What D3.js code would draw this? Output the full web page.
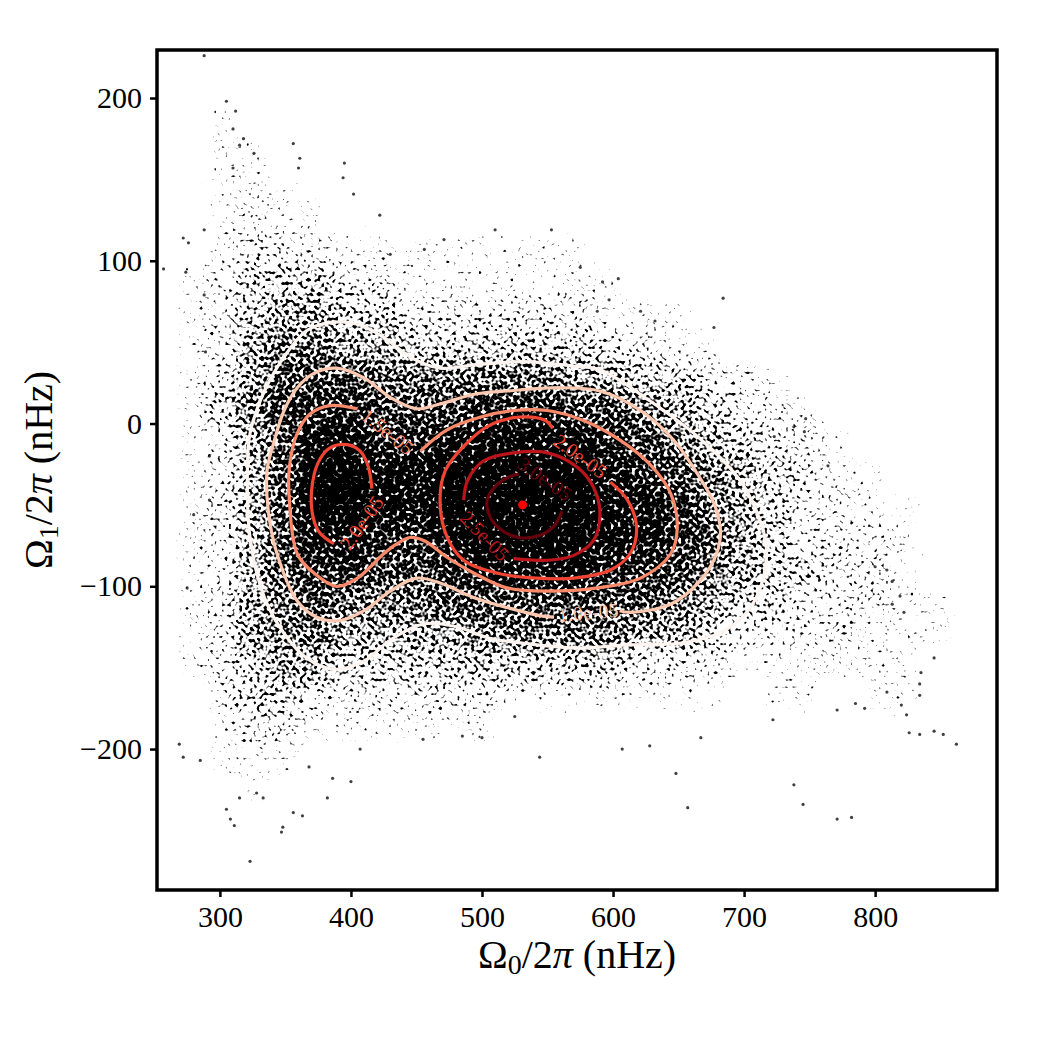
<!DOCTYPE html>
<html>
<head>
<meta charset="utf-8">
<script src="https://cdn.jsdelivr.net/npm/d3@7"></script>
<style>
  body { margin: 0; background: #fff; }
  svg { display: block; }
</style>
</head>
<body>
<div id="chart"></div>
<script>
// ---- data ----
// cloud density on a coarse grid (0 = empty ... 9 = densest), rows top to bottom
const gridX = [250, 275, 300, 325, 350, 375, 400, 425, 450, 475, 500, 525, 550, 575, 600, 625, 650, 675, 700, 725, 750, 775, 800, 825, 850, 875, 900];
const gridY = [230, 210, 190, 170, 150, 130, 110, 90, 70, 50, 30, 10, -10, -30, -50, -70, -90, -110, -130, -150, -170, -190, -210, -230, -250, -270, -290];
const density = [
	"000000000000000000000000000",
	"000000000000000000000000000",
	"001000000000000000000000000",
	"001100000000000000000000000",
	"001110000000000000000000000",
	"001211000000000000000000000",
	"001222111111110000000000000",
	"012333221111111000000000000",
	"012344332222221110000000000",
	"012455443333332211000000000",
	"012466655555544332210000000",
	"013577766677766543221000000",
	"012468877888887654322100000",
	"012469988999998765432110000",
	"012469988999998875432211000",
	"012468877899998876432221000",
	"012467766788887765433221000",
	"012456555666666654332221100",
	"012455444455555443222211100",
	"012344333333333222111111000",
	"002332222221111111011011000",
	"001221111110000000000000000",
	"001110000000000000000000000",
	"000100000000000000000000000",
	"000000000000000000000000000",
	"000000000000000000000000000",
	"000000000000000000000000000"
];

// isolated samples outside the dense cloud  [Omega0/2pi, Omega1/2pi]
const outliers = [
	[288,226],[305,198],[312,192],[310,181],[318,175],[315,171],[356,172],[326,166],[361,163],[310,157],
	[395,160],[394,151],[360,157],[272,114],[276,111],[257,95],[274,93],[288,119],[288,79],[289,44],
	[292,-20],[402,141],[422,128],[510,119],[553,119],[471,113],[456,107],[430,104],
	[575,96],[592,87],[604,89],[597,76],[684,77],[621,69],[632,63],[677,59],[588,69],
	[747,3],[738,-2],[746,-5],[764,-26],[723,-8],
	[269,-197],[272,-205],[285,-207],[280,-56],[275,-101],[292,-47],[323,-269],[311,-247],[308,-243],
	[347,-251],[348,-248],[363,-241],[356,-239],[305,-237],[382,-230],[333,-230],[328,-227],[315,-230],
	[368,-211],[386,-218],[400,-220],[407,-200],[455,-194],[500,-193],[544,-205],[485,-192],[525,-180],
	[648,-215],[657,-236],[738,-222],[745,-234],[771,-243],[782,-242],[862,-197],[852,-191],[845,-189],
	[834,-191],[826,-190],[824,-179],[607,-200],[628,-198],[667,-193],[722,-182],
	[845,-144],[835,-153],[834,-160],[834,-167],[820,-173],[809,-165],[792,-175],[785,-172],[771,-176],
	[813,-111],[822,-116],[819,-106],[800,-88],[809,-90],[813,-97]
];

// KDE contour levels and their traced paths (open ones leave a gap for the label)
const levels = [0.5e-5, 1.0e-5, 1.5e-5, 2.0e-5, 2.5e-5, 3.0e-5];
const contour05 = [[590,33],[628,14],[666,-9],[697,-35],[711,-57],[717,-76],[714,-97],[703,-115],[683,-128],[651,-135],
	[611,-136],[573,-138],[532,-135],[506,-132],[481,-125],[456,-123],[430,-133],[410,-146],[387,-151],[366,-144],
	[349,-129],[334,-107],[323,-70],[321,-29],[323,-6],[334,20],[349,41],[366,57],[384,62],[405,61],
	[425,53],[445,41],[468,34],[494,36],[532,38],[573,35]];
const contour10 = [[605,-115],[613,-116],[644,-111],[666,-97],[679,-80],[682,-66],[677,-49],[666,-33],[646,-10],[621,8],
	[590,20],[560,22],[519,20],[494,18],[468,12],[450,9],[430,16],[410,28],[389,34],[372,31],
	[359,22],[349,8],[341,-12],[336,-29],[338,-60],[346,-86],[359,-109],[374,-119],[392,-121],[410,-115],
	[430,-103],[450,-95],[468,-98],[494,-107],[519,-113],[544,-118],[555,-119]];
const contour15 = [[453,-17],[473,-4],[499,4],[524,8],[550,8],[577,2],[605,-10],[628,-25],[644,-43],[649,-64],
	[644,-80],[621,-95],[588,-101],[550,-103],[519,-101],[494,-92],[473,-82],[456,-72],[445,-70],[435,-74],
	[425,-80],[405,-95],[389,-100],[372,-92],[359,-80],[353,-47],[353,-27],[359,-6],[369,6],[384,11],[405,9]];
const contour20a = [[598,-36],[611,-47],[618,-64],[613,-80],[598,-90],[570,-95],[542,-95],[512,-92],[486,-84],[473,-69],
	[468,-47],[472,-29],[486,-14],[506,-1],[529,4],[548,2],[554,-3]];
const contour20b = [[416,-40],[413,-26],[407,-17],[397,-13],[384,-15],[375,-24],[370,-41],[371,-57],[376,-67],[387,-74]];
const contour25 = [[524,-83],[550,-84],[570,-81],[585,-72],[590,-55],[585,-39],[573,-27],[550,-18],[524,-18],[501,-23],
	[489,-35],[486,-47]];
const contour30 = [[561,-54],[555,-63],[543,-69],[528,-70],[514,-65],[506,-57],[504,-47],[511,-38],[523,-32],[528,-31]];
const contours = [
	{ level: 0, pts: contour05, closed: true },
	{ level: 1, pts: contour10, closed: false },
	{ level: 2, pts: contour15, closed: false },
	{ level: 3, pts: contour20a, closed: false },
	{ level: 3, pts: contour20b, closed: false },
	{ level: 4, pts: contour25, closed: false },
	{ level: 5, pts: contour30, closed: false }
];
// inline labels: level index, position (data units), angle
const labels = [
	{ level: 1, x: 581, y: -116, angle: -5 },
	{ level: 2, x: 428, y: -5, angle: 39 },
	{ level: 3, x: 408, y: -61, angle: -55 },
	{ level: 3, x: 575, y: -20, angle: 36 },
	{ level: 4, x: 502, y: -69, angle: 46 },
	{ level: 5, x: 548, y: -34, angle: 35 }
];
const peak = [531, -50];

const xTicks = [300, 400, 500, 600, 700, 800];
const yTicks = [-200, -100, 0, 100, 200];

// ---- drawing ----
const width = 1050, height = 1050;
const pL = 157, pT = 50, pR = 997, pB = 890;
const serif = "'Liberation Serif', 'Times New Roman', serif";

const x = d3.scaleLinear().domain([252, 893]).range([pL, pR]);
const y = d3.scaleLinear().domain([-286.6, 229.5]).range([pB, pT]);

// matplotlib "Reds" sampled at the six levels
const levelColor = d3.scaleOrdinal()
	.domain(d3.range(levels.length))
	.range(["#fff5f0", "#fdc9b1", "#fc8a6a", "#f14432", "#bc141a", "#67000d"]);

const svg = d3.select("#chart").append("svg")
	.attr("width", width)
	.attr("height", height);

const defs = svg.append("defs");
defs.append("clipPath").attr("id", "plot")
	.append("rect").attr("x", pL).attr("y", pT).attr("width", pR - pL).attr("height", pB - pT);

// threshold the smooth density against a noise texture so it reads as a dense scatter
const grain = defs.append("filter").attr("id", "grain")
	.attr("filterUnits", "userSpaceOnUse")
	.attr("x", pL).attr("y", pT).attr("width", pR - pL).attr("height", pB - pT)
	.attr("color-interpolation-filters", "sRGB");
grain.append("feGaussianBlur").attr("in", "SourceAlpha").attr("stdDeviation", 8).attr("result", "dens");
grain.append("feTurbulence").attr("type", "fractalNoise").attr("baseFrequency", 0.28)
	.attr("numOctaves", 1).attr("seed", 7).attr("result", "noise");
grain.append("feColorMatrix").attr("in", "noise").attr("type", "matrix")
	.attr("values", "0 0 0 0 0  0 0 0 0 0  0 0 0 0 0  1 0 0 0 0").attr("result", "thr");
grain.append("feComposite").attr("in", "dens").attr("in2", "thr").attr("operator", "arithmetic")
	.attr("k1", 0).attr("k2", 8).attr("k3", -8).attr("k4", 0.5).attr("result", "dots");
// keep the dots black: only alpha comes out of the threshold
grain.append("feColorMatrix").attr("in", "dots").attr("type", "matrix")
	.attr("values", "0 0 0 0 0  0 0 0 0 0  0 0 0 0 0  0 0 0 1 0");

// grid level -> threshold used against the noise
const cover = [0, 0.27, 0.33, 0.395, 0.455, 0.505, 0.55, 0.59, 0.635, 0.70];

const cells = [];
density.forEach((row, i) => row.split("").forEach((c, j) => { if (+c > 0) cells.push({ i, j, v: +c }); }));

const cloud = svg.append("g").attr("filter", "url(#grain)");
cloud.selectAll("rect").data(cells).enter().append("rect")
	.attr("x", d => x(gridX[d.j] - 12.5))
	.attr("width", d => x(gridX[d.j] + 12.5) - x(gridX[d.j] - 12.5))
	.attr("y", d => y(gridY[d.i] + 10))
	.attr("height", d => y(gridY[d.i] - 10) - y(gridY[d.i] + 10))
	.attr("fill", "#000")
	.attr("fill-opacity", d => cover[d.v]);

const plot = svg.append("g").attr("clip-path", "url(#plot)");

plot.selectAll("circle.pt").data(outliers).enter().append("circle")
	.attr("class", "pt")
	.attr("cx", d => x(d[0]))
	.attr("cy", d => y(d[1]))
	.attr("r", 1.6)
	.attr("fill", "#000")
	.attr("fill-opacity", 0.75);

contours.forEach(c => {
	const line = d3.line()
		.x(d => x(d[0]))
		.y(d => y(d[1]))
		.curve(c.closed ? d3.curveCatmullRomClosed : d3.curveCatmullRom);
	plot.append("path")
		.attr("d", line(c.pts))
		.attr("fill", "none")
		.attr("stroke", levelColor(c.level))
		.attr("stroke-width", 3.2)
		.attr("stroke-linecap", "butt");
});

const fmtLevel = v => v.toExponential(1).replace(/e-(\d)$/, "e-0$1");
plot.selectAll("text.clabel").data(labels).enter().append("text")
	.attr("class", "clabel")
	.attr("transform", d => `translate(${x(d.x)},${y(d.y)}) rotate(${d.angle})`)
	.attr("text-anchor", "middle")
	.attr("dominant-baseline", "central")
	.attr("fill", d => levelColor(d.level))
	.style("font-family", serif)
	.style("font-size", "20px")
	.text(d => fmtLevel(levels[d.level]));

plot.append("circle")
	.attr("cx", x(peak[0]))
	.attr("cy", y(peak[1]))
	.attr("r", 4.5)
	.attr("fill", "#ff0000");

// axes
const xAxis = svg.append("g")
	.attr("transform", `translate(0,${pB})`)
	.call(d3.axisBottom(x).tickValues(xTicks).tickSize(7).tickPadding(9));
const yAxis = svg.append("g")
	.attr("transform", `translate(${pL},0)`)
	.call(d3.axisLeft(y).tickValues(yTicks).tickSize(7).tickPadding(8));

[xAxis, yAxis].forEach(a => {
	a.select(".domain").remove();
	a.selectAll(".tick line").attr("stroke", "#000").attr("stroke-width", 2.5);
	a.selectAll(".tick text")
		.attr("fill", "#000")
		.style("font-family", serif)
		.style("font-size", "30px");
});

svg.append("rect")
	.attr("x", pL).attr("y", pT)
	.attr("width", pR - pL).attr("height", pB - pT)
	.attr("fill", "none")
	.attr("stroke", "#000")
	.attr("stroke-width", 3.5);

// axis labels
function axisLabel(g, sub) {
	g.append("tspan").text("Ω");
	g.append("tspan").attr("baseline-shift", "-22%").style("font-size", "70%").text(sub);
	g.append("tspan").text("/2");
	g.append("tspan").style("font-style", "italic").text("π");
	g.append("tspan").text(" (nHz)");
}

const xl = svg.append("text")
	.attr("x", (pL + pR) / 2)
	.attr("y", 968)
	.attr("text-anchor", "middle")
	.style("font-family", serif)
	.style("font-size", "40px");
axisLabel(xl, "0");

const yl = svg.append("text")
	.attr("transform", `translate(52,${(pT + pB) / 2}) rotate(-90)`)
	.attr("text-anchor", "middle")
	.style("font-family", serif)
	.style("font-size", "40px");
axisLabel(yl, "1");
</script>
</body>
</html>
